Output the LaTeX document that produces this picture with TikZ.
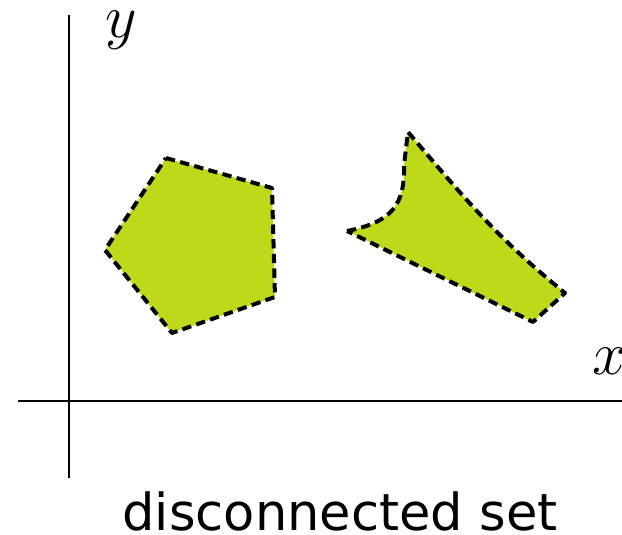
\documentclass[tikz,border=0pt]{standalone}
\usepackage{amsmath}
\usepackage{graphicx}
\usepackage{fontspec}
\usepackage{tikz}
\usetikzlibrary{positioning, calc}
\newfontfamily\labelfont{DejaVu Sans}
\definecolor{setgreen}{RGB}{191,216,26}
\newcommand{\bigmath}[1]{\scalebox{1.85}{\Huge$#1$}}
\tikzset{
  axisline/.style={line width=1.6pt},
  setpatch/.style={fill=setgreen, draw=black, line width=3pt, dash pattern=on 7pt off 4pt, line join=round},
  axislabel/.style={inner sep=0pt}
}
\begin{document}
\begin{tikzpicture}[x=0.75pt, y=-0.75pt]
  \useasboundingbox (0,0) rectangle (622,535);
  \coordinate (yb) at (69,478); \coordinate (yt) at (69,15);
  \coordinate (xl) at (18,401); \coordinate (xr) at (622,401);
  \draw[axisline] (yb) -- (yt);
  \draw[axisline] (xl) -- (xr);
  \node[axislabel] (ylab) at (121,30) {\bigmath{y}};
  \node[axislabel] (xlab) at (610,361) {\bigmath{x}};
  \draw[setpatch] (166,158) -- (272,188) -- (275,297) -- (172,333) -- (105,250) -- cycle;
  \draw[setpatch] (347,231) .. controls (392,222) and (405,205) .. (404,165) -- (408,132)
    .. controls (470,205) and (500,240) .. (565,293) -- (533,322) -- cycle;
  \node[anchor=base, inner sep=0pt, font=\labelfont\fontsize{38.3}{44}\selectfont] (caption) at (340,530) {disconnected set};
\end{tikzpicture}
\end{document}
